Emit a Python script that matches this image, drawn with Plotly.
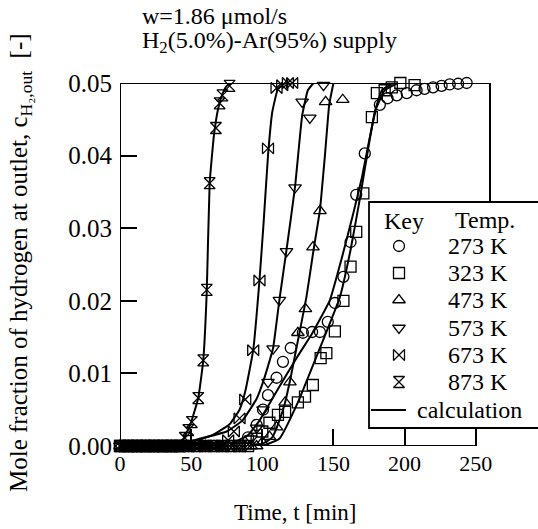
import plotly.graph_objects as go

# ---------------- data ----------------
t_873 = [0, 3, 6, 9, 12, 15, 18, 21, 24, 27, 30, 33, 36, 39, 42, 45.6, 48, 50.5, 55, 58.5, 61, 63, 67.4, 70, 72, 77]
c_873 = [0, 0, 0, 0, 0, 0, 0, 0, 0, 0, 0, 0, 0, 0, 0, 0.0011, 0.0022, 0.0033, 0.0066, 0.0118, 0.0215, 0.0362, 0.0438, 0.0472, 0.0483, 0.0496]

t_673 = [0, 4, 8, 12, 16, 20, 24, 28, 32, 36, 40, 44, 48, 52, 56, 60, 64, 68, 72, 76, 80, 84, 88, 93.6, 98, 104, 110, 114, 118, 121]
c_673 = [0, 0, 0, 0, 0, 0, 0, 0, 0, 0, 0, 0, 0, 0, 0, 0, 0, 0, 0, 0.0008, 0.002, 0.0038, 0.0064, 0.0132, 0.0228, 0.041, 0.0493, 0.0497, 0.05, 0.05]

t_573 = [0, 4, 8, 12, 16, 20, 24, 28, 32, 36, 40, 44, 48, 52, 56, 60, 64, 68, 72, 76, 80, 84, 88, 92, 96, 100.5, 104, 107.6, 112, 117, 123, 128, 133.4, 143]
c_573 = [0, 0, 0, 0, 0, 0, 0, 0, 0, 0, 0, 0, 0, 0, 0, 0, 0, 0, 0, 0, 0, 0, 0, 0.001, 0.0025, 0.005, 0.0088, 0.0134, 0.0201, 0.0268, 0.0356, 0.0474, 0.0452, 0.0497]

t_473 = [0, 4, 8, 12, 16, 20, 24, 28, 32, 36, 40, 44, 48, 52, 56, 60, 64, 68, 72, 76, 80, 84, 88, 92, 96, 100, 105, 110, 116, 119.4, 125, 130.3, 135.6, 140.5, 144.5, 156.5]
c_473 = [0, 0, 0, 0, 0, 0, 0, 0, 0, 0, 0, 0, 0, 0, 0, 0, 0, 0, 0, 0, 0, 0, 0, 0, 0, 0.0005, 0.0013, 0.0026, 0.006, 0.0088, 0.0156, 0.0189, 0.0274, 0.0324, 0.0474, 0.0477]

t_323 = [0, 6, 12, 18, 24, 30, 36, 42, 48, 54, 60, 66, 72, 78, 84, 90, 96, 100, 105, 111, 116, 125, 130, 135.5, 141, 145, 151, 157, 162, 166, 171, 177, 180.5, 186, 191, 197, 207]
c_323 = [0, 0, 0, 0, 0, 0, 0, 0, 0, 0, 0, 0, 0, 0, 0, 0, 0.001, 0.002, 0.0032, 0.0043, 0.0047, 0.006, 0.0068, 0.0084, 0.0121, 0.0128, 0.0158, 0.02, 0.0247, 0.0295, 0.0348, 0.0453, 0.0486, 0.049, 0.0494, 0.05, 0.0497]

t_273 = [0, 6, 12, 18, 24, 30, 36, 42, 48, 54, 60, 66, 72, 78, 84, 90, 96, 100.5, 104, 110, 114.5, 120, 128.5, 135, 140.5, 146, 151, 157, 162, 166, 172, 182.6, 188, 194.5, 201.5, 208.4, 214, 220, 226, 231.7, 237.6, 243.6]
c_273 = [0, 0, 0, 0, 0, 0, 0, 0, 0, 0, 0, 0, 0, 0, 0, 0.0012, 0.0029, 0.005, 0.007, 0.0094, 0.0116, 0.0135, 0.0156, 0.0157, 0.0157, 0.0171, 0.0197, 0.0233, 0.0281, 0.0346, 0.0403, 0.047, 0.0479, 0.0483, 0.0486, 0.049, 0.0492, 0.0494, 0.0496, 0.0498, 0.0499, 0.05]

# calculation curves
calc_t_873 = [0, 36, 40, 45, 50, 55, 58.5, 61, 63, 66, 69, 72, 75, 79, 260]
calc_c_873 = [0, 0, 0.0003, 0.0011, 0.0033, 0.0066, 0.0118, 0.0215, 0.0362, 0.0428, 0.0465, 0.0485, 0.0496, 0.05, 0.05]

calc_t_673 = [35, 50, 65, 77, 84, 88, 93.6, 98, 101, 104, 107, 111, 116]
calc_c_673 = [0, 0.0005, 0.0015, 0.003, 0.005, 0.0075, 0.0132, 0.0228, 0.031, 0.04, 0.046, 0.0492, 0.05]

calc_t_573 = [38, 56, 75, 86, 96, 100.5, 104, 107.6, 112, 117, 123, 128, 132, 136]
calc_c_573 = [0, 0.001, 0.002, 0.0035, 0.0065, 0.0088, 0.011, 0.0135, 0.0201, 0.027, 0.0357, 0.0455, 0.049, 0.05]

calc_t_473 = [90, 100, 107, 112, 116, 120, 125, 131, 136, 140.5, 144, 147, 150]
calc_c_473 = [0, 0.0003, 0.0012, 0.0035, 0.006, 0.0095, 0.0145, 0.0205, 0.027, 0.0325, 0.04, 0.047, 0.05]

calc_t_273 = [60, 80, 90, 98, 110, 124, 135, 147.5, 156, 164, 170, 175, 180, 186, 195]
calc_c_273 = [0, 0.0005, 0.0015, 0.0035, 0.0075, 0.0121, 0.0155, 0.0201, 0.026, 0.0321, 0.037, 0.042, 0.0465, 0.049, 0.05]

calc_t_323 = [100, 112, 125, 140.5, 154.5, 162, 168.5, 174, 179, 184, 192]
calc_c_323 = [0, 0.001, 0.006, 0.0135, 0.0205, 0.027, 0.034, 0.0405, 0.046, 0.049, 0.05]

labels = ["273 K", "323 K", "473 K", "573 K", "673 K", "873 K"]
symbols = ["circle-open", "square-open", "triangle-up-open", "triangle-down-open", "bowtie-open", "hourglass-open"]
marker_t = [t_273, t_323, t_473, t_573, t_673, t_873]
marker_c = [c_273, c_323, c_473, c_573, c_673, c_873]
calc_t = [calc_t_273, calc_t_323, calc_t_473, calc_t_573, calc_t_673, calc_t_873]
calc_c = [calc_c_273, calc_c_323, calc_c_473, calc_c_573, calc_c_673, calc_c_873]

x_ticks = [0, 50, 100, 150, 200, 250]
y_ticks = [0.00, 0.01, 0.02, 0.03, 0.04, 0.05]
y_ticktext = ["0.00", "0.01", "0.02", "0.03", "0.04", "0.05"]

FONT = "Liberation Serif"

# ---------------- layout geometry (pixels) ----------------
W, H = 538, 529
L, R, T, B = 120, 48, 83, 83
pw, ph = W - L - R, H - T - B


def px(xp):
    return (xp - L) / pw


def py(yp):
    return (H - B - yp) / ph


fig = go.Figure()

for ct, cc in zip(calc_t, calc_c):
    fig.add_trace(go.Scatter(x=ct, y=cc, mode="lines",
                             line=dict(color="black", width=2, shape="spline", smoothing=0.35),
                             showlegend=False, hoverinfo="skip", cliponaxis=False))

for lab, sym, tt, cc in zip(labels, symbols, marker_t, marker_c):
    fig.add_trace(go.Scatter(x=tt, y=cc, mode="markers", name=lab, showlegend=False,
                             marker=dict(symbol=sym, size=11, color="black", line=dict(color="black", width=1.3)),
                             cliponaxis=False))

# ---------------- hand-drawn key box ----------------
box_left, box_top, box_bottom = 369, 202, 428
row_y = [246, 273, 300, 328, 355, 382]
calc_row_y = 410
key_marker_x = 399
key_text_x = 446

fig.add_shape(type="rect", xref="paper", yref="paper", x0=px(box_left), x1=px(W + 10), y0=py(box_bottom),
              y1=py(box_top), line=dict(color="black", width=1.8), fillcolor="white", layer="below")

# overlay axes in pixel units used only for the key symbols
fig.add_trace(go.Scatter(x=[key_marker_x] * len(labels), y=row_y, mode="markers", xaxis="x2", yaxis="y2",
                         marker=dict(symbol=symbols, size=11, color="black", line=dict(color="black", width=1.3)),
                         showlegend=False, hoverinfo="skip", cliponaxis=False))

fig.add_shape(type="line", xref="paper", yref="paper", x0=px(371), x1=px(406), y0=py(calc_row_y),
              y1=py(calc_row_y), line=dict(color="black", width=2))

fig.add_annotation(text="Key", x=px(382), y=py(221), xref="paper", yref="paper", xanchor="left",
                   yanchor="middle", showarrow=False, font=dict(family=FONT, size=24))
fig.add_annotation(text="Temp.", x=px(453), y=py(220), xref="paper", yref="paper", xanchor="left",
                   yanchor="middle", showarrow=False, font=dict(family=FONT, size=24))
for lab, yy in zip(labels, row_y):
    fig.add_annotation(text=lab, x=px(key_text_x), y=py(yy), xref="paper", yref="paper", xanchor="left",
                       yanchor="middle", showarrow=False, font=dict(family=FONT, size=24))
fig.add_annotation(text="calculation", x=px(415), y=py(calc_row_y), xref="paper", yref="paper", xanchor="left",
                   yanchor="middle", showarrow=False, font=dict(family=FONT, size=24))

fig.update_layout(
    width=W, height=H,
    margin=dict(l=L, r=R, t=T, b=B),
    paper_bgcolor="white", plot_bgcolor="rgba(0,0,0,0)",
    font=dict(family=FONT, size=22, color="black"),
    showlegend=False,
    xaxis=dict(range=[0, 260], tickvals=x_ticks, ticks="inside", ticklen=17, tickwidth=2, tickcolor="black",
               showgrid=False, zeroline=False, showline=False, tickfont=dict(family=FONT, size=22),
               ticklabelstandoff=2),
    yaxis=dict(range=[0, 0.05], tickvals=y_ticks, ticktext=y_ticktext, ticks="inside", ticklen=17, tickwidth=2,
               tickcolor="black", showgrid=False, zeroline=False, showline=False,
               tickfont=dict(family=FONT, size=25), ticklabelstandoff=7),
    xaxis2=dict(range=[L, W - R], overlaying="x", visible=False, fixedrange=True),
    yaxis2=dict(range=[H - B, T], overlaying="y", visible=False, fixedrange=True),
)

# frame lines
line_style = dict(color="black", width=2)
fig.add_shape(type="line", x0=0, x1=0, y0=0, y1=0.05, xref="x", yref="y", line=line_style, layer="below")
fig.add_shape(type="line", x0=0, x1=260, y0=0.05, y1=0.05, xref="x", yref="y", line=line_style, layer="below")
fig.add_shape(type="line", x0=0, x1=250, y0=0, y1=0, xref="x", yref="y", line=line_style, layer="below")
fig.add_shape(type="line", xref="paper", yref="paper", x0=1, x1=1, y0=1, y1=py(box_top), line=line_style,
              layer="below")

fig.add_annotation(text="w=1.86 μmol/s", x=px(140), y=py(16), xref="paper", yref="paper",
                   xanchor="left", yanchor="middle", showarrow=False, font=dict(family=FONT, size=24))
fig.add_annotation(text="H<sub>2</sub>(5.0%)-Ar(95%) supply", x=px(140), y=py(42), xref="paper", yref="paper",
                   xanchor="left", yanchor="middle", showarrow=False, font=dict(family=FONT, size=24))
fig.add_annotation(text="Time, t [min]", x=px(295), y=py(512), xref="paper", yref="paper",
                   xanchor="center", yanchor="middle", showarrow=False, font=dict(family=FONT, size=23))
fig.add_annotation(text="Mole fraction of hydrogen at outlet, c<sub>H₂,out</sub>  [-]", x=px(20), y=py(263),
                   xref="paper", yref="paper", textangle=-90, xanchor="center", yanchor="middle",
                   showarrow=False, font=dict(family=FONT, size=25))

fig.write_html("out.html")
